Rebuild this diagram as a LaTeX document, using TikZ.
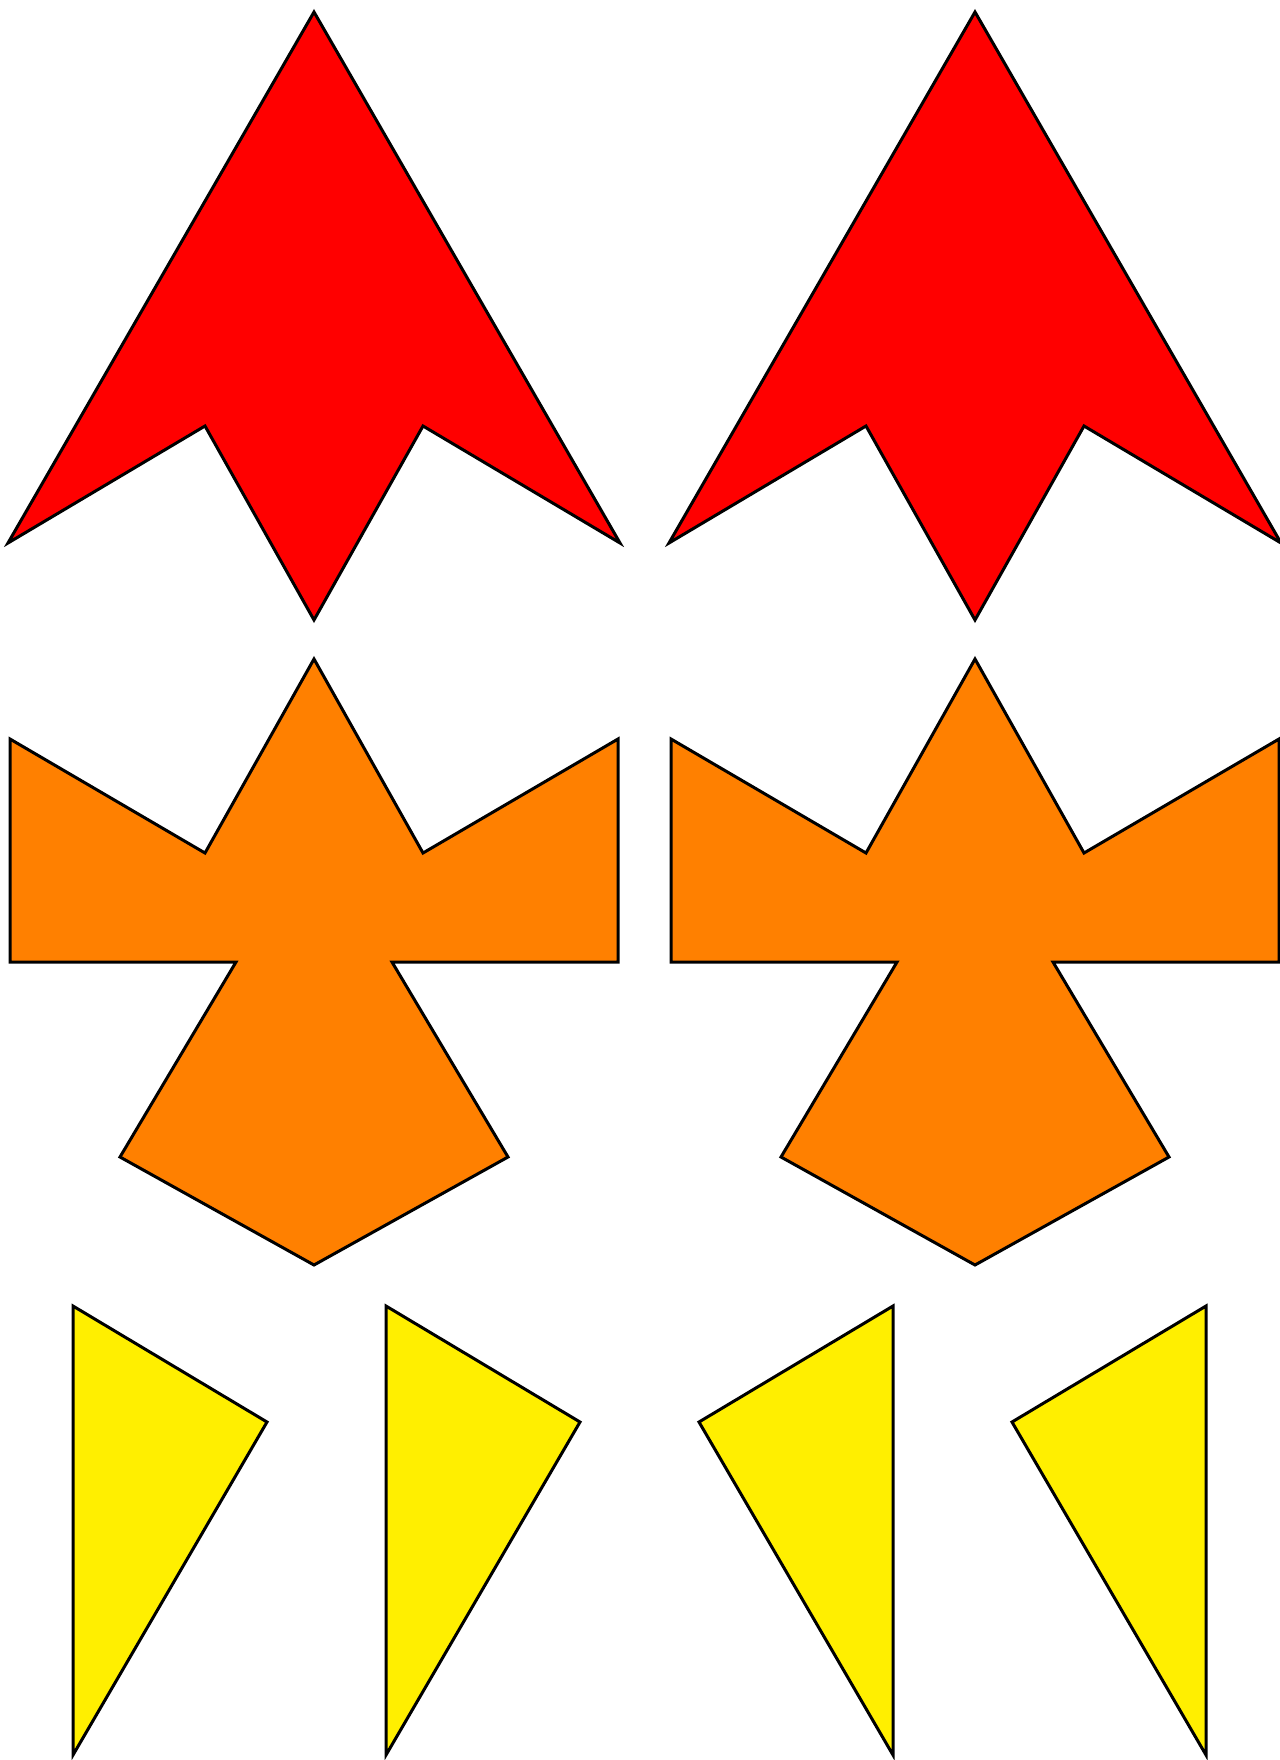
\documentclass[tikz,border=0pt]{standalone}
\usetikzlibrary{calc}
\definecolor{redfill}{HTML}{FF0000}
\definecolor{orangefill}{HTML}{FF8000}
\definecolor{yellowfill}{HTML}{FFEF00}
\tikzset{
  outline/.style={draw=black, line width=3pt, line join=miter, miter limit=20},
  redshape/.style={outline, fill=redfill},
  orangeshape/.style={outline, fill=orangefill},
  yellowshape/.style={outline, fill=yellowfill}
}
\begin{document}
\begin{tikzpicture}[x=1pt, y=-1pt]
\useasboundingbox (0,0) rectangle (1279,1760);
\fill[white] (0,0) rectangle (1279,1760);
% red arrows
\foreach \dx in {0,661}{
  \draw[redshape, xshift=\dx pt] (314,12) -- (620,543) -- (423,426) -- (314,620) -- (205,426) -- (8,543) -- cycle;
}
% orange shapes
\foreach \dx in {0,661}{
  \draw[orangeshape, xshift=\dx pt] (314,659) -- (423,853) -- (618,739) -- (618,962) -- (392,962) -- (508,1157) -- (314,1265) -- (120,1157) -- (236,962) -- (10,962) -- (10,739) -- (205,853) -- cycle;
}
% yellow triangles
\draw[yellowshape] (73,1306) -- (267,1422) -- (73,1755) -- cycle;
\draw[yellowshape] (386,1306) -- (580,1422) -- (386,1755) -- cycle;
\draw[yellowshape] (893,1306) -- (699,1422) -- (893,1755) -- cycle;
\draw[yellowshape] (1206,1306) -- (1012,1422) -- (1206,1755) -- cycle;
\end{tikzpicture}
\end{document}
